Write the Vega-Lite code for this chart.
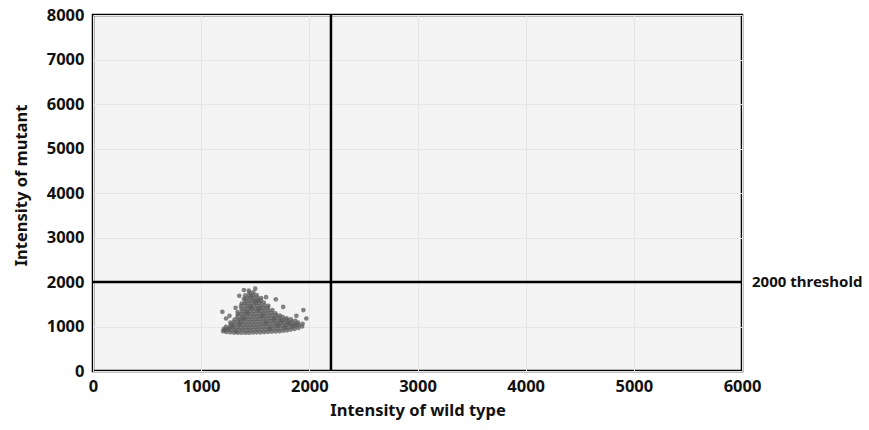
{
  "$schema": "https://vega.github.io/schema/vega-lite/v6.json",
  "autosize": {"type": "none"},
  "padding": {"left": 93, "top": 15, "right": 127, "bottom": 59},
  "width": 649,
  "height": 356,
  "background": "white",
  "config": {
    "view": {"fill": "#f4f4f4", "stroke": "black", "strokeWidth": 2.5},
    "font": "Noto Sans"
  },
  "datasets": {
    "pts": [
      {"wt":1203,"mut":895},{"wt":1210,"mut":950},{"wt":1218,"mut":915},
      {"wt":1233,"mut":878},{"wt":1238,"mut":935},{"wt":1230,"mut":990},
      {"wt":1268,"mut":868},{"wt":1273,"mut":925},{"wt":1266,"mut":985},{"wt":1275,"mut":1045},{"wt":1270,"mut":1090},
      {"wt":1303,"mut":864},{"wt":1309,"mut":920},{"wt":1300,"mut":980},{"wt":1307,"mut":1040},{"wt":1302,"mut":1100},{"wt":1310,"mut":1155},
      {"wt":1338,"mut":860},{"wt":1344,"mut":918},{"wt":1336,"mut":976},{"wt":1342,"mut":1036},{"wt":1339,"mut":1095},{"wt":1346,"mut":1155},{"wt":1335,"mut":1215},{"wt":1341,"mut":1275},{"wt":1337,"mut":1325},
      {"wt":1372,"mut":862},{"wt":1378,"mut":921},{"wt":1370,"mut":978},{"wt":1380,"mut":1038},{"wt":1374,"mut":1097},{"wt":1369,"mut":1158},{"wt":1377,"mut":1219},{"wt":1371,"mut":1277},{"wt":1379,"mut":1338},{"wt":1373,"mut":1399},{"wt":1368,"mut":1457},{"wt":1376,"mut":1515},
      {"wt":1408,"mut":860},{"wt":1413,"mut":917},{"wt":1405,"mut":977},{"wt":1415,"mut":1035},{"wt":1409,"mut":1096},{"wt":1404,"mut":1157},{"wt":1412,"mut":1215},{"wt":1407,"mut":1277},{"wt":1414,"mut":1336},{"wt":1406,"mut":1395},{"wt":1411,"mut":1457},{"wt":1403,"mut":1516},{"wt":1410,"mut":1577},{"wt":1415,"mut":1636},{"wt":1408,"mut":1700},
      {"wt":1443,"mut":862},{"wt":1448,"mut":921},{"wt":1440,"mut":979},{"wt":1450,"mut":1041},{"wt":1444,"mut":1099},{"wt":1439,"mut":1161},{"wt":1447,"mut":1219},{"wt":1442,"mut":1281},{"wt":1449,"mut":1340},{"wt":1441,"mut":1401},{"wt":1446,"mut":1459},{"wt":1438,"mut":1521},{"wt":1445,"mut":1580},{"wt":1450,"mut":1641},{"wt":1443,"mut":1700},{"wt":1448,"mut":1760},{"wt":1440,"mut":1805},
      {"wt":1478,"mut":865},{"wt":1483,"mut":924},{"wt":1475,"mut":986},{"wt":1485,"mut":1044},{"wt":1479,"mut":1106},{"wt":1474,"mut":1164},{"wt":1482,"mut":1226},{"wt":1477,"mut":1284},{"wt":1484,"mut":1346},{"wt":1476,"mut":1404},{"wt":1481,"mut":1466},{"wt":1473,"mut":1524},{"wt":1480,"mut":1586},{"wt":1485,"mut":1644},{"wt":1478,"mut":1706},{"wt":1482,"mut":1770},
      {"wt":1513,"mut":868},{"wt":1518,"mut":929},{"wt":1510,"mut":987},{"wt":1520,"mut":1049},{"wt":1514,"mut":1108},{"wt":1509,"mut":1169},{"wt":1517,"mut":1227},{"wt":1512,"mut":1289},{"wt":1519,"mut":1348},{"wt":1511,"mut":1409},{"wt":1516,"mut":1467},{"wt":1508,"mut":1529},{"wt":1515,"mut":1588},{"wt":1520,"mut":1649},{"wt":1513,"mut":1708},
      {"wt":1548,"mut":870},{"wt":1553,"mut":931},{"wt":1545,"mut":989},{"wt":1555,"mut":1051},{"wt":1549,"mut":1109},{"wt":1544,"mut":1171},{"wt":1552,"mut":1229},{"wt":1547,"mut":1291},{"wt":1554,"mut":1349},{"wt":1546,"mut":1411},{"wt":1551,"mut":1469},{"wt":1543,"mut":1531},{"wt":1550,"mut":1589},{"wt":1555,"mut":1640},
      {"wt":1583,"mut":875},{"wt":1588,"mut":934},{"wt":1580,"mut":996},{"wt":1590,"mut":1054},{"wt":1584,"mut":1116},{"wt":1579,"mut":1174},{"wt":1587,"mut":1236},{"wt":1582,"mut":1294},{"wt":1589,"mut":1356},{"wt":1581,"mut":1414},{"wt":1586,"mut":1476},{"wt":1578,"mut":1540},
      {"wt":1618,"mut":880},{"wt":1623,"mut":941},{"wt":1615,"mut":999},{"wt":1625,"mut":1061},{"wt":1619,"mut":1119},{"wt":1614,"mut":1181},{"wt":1622,"mut":1239},{"wt":1617,"mut":1301},{"wt":1624,"mut":1359},{"wt":1616,"mut":1421},{"wt":1621,"mut":1465},
      {"wt":1653,"mut":885},{"wt":1658,"mut":944},{"wt":1650,"mut":1006},{"wt":1660,"mut":1064},{"wt":1654,"mut":1126},{"wt":1649,"mut":1184},{"wt":1657,"mut":1246},{"wt":1652,"mut":1304},{"wt":1659,"mut":1370},
      {"wt":1688,"mut":890},{"wt":1693,"mut":951},{"wt":1685,"mut":1009},{"wt":1695,"mut":1071},{"wt":1689,"mut":1129},{"wt":1684,"mut":1191},{"wt":1692,"mut":1249},{"wt":1687,"mut":1295},
      {"wt":1723,"mut":895},{"wt":1728,"mut":954},{"wt":1720,"mut":1016},{"wt":1730,"mut":1074},{"wt":1724,"mut":1136},{"wt":1719,"mut":1194},{"wt":1727,"mut":1245},
      {"wt":1758,"mut":905},{"wt":1763,"mut":966},{"wt":1755,"mut":1024},{"wt":1765,"mut":1086},{"wt":1759,"mut":1144},{"wt":1754,"mut":1210},
      {"wt":1793,"mut":915},{"wt":1798,"mut":974},{"wt":1790,"mut":1036},{"wt":1800,"mut":1094},{"wt":1794,"mut":1150},{"wt":1789,"mut":1185},
      {"wt":1828,"mut":930},{"wt":1833,"mut":991},{"wt":1825,"mut":1049},{"wt":1835,"mut":1111},{"wt":1829,"mut":1160},
      {"wt":1863,"mut":948},{"wt":1868,"mut":1006},{"wt":1860,"mut":1064},{"wt":1870,"mut":1125},
      {"wt":1898,"mut":968},{"wt":1903,"mut":1031},{"wt":1895,"mut":1090},
      {"wt":1933,"mut":1000},{"wt":1938,"mut":1060},
      {"wt":1256,"mut":952},{"wt":1289,"mut":1010},{"wt":1322,"mut":890},{"wt":1357,"mut":1060},{"wt":1391,"mut":1180},{"wt":1425,"mut":1310},{"wt":1461,"mut":1430},{"wt":1497,"mut":1560},{"wt":1530,"mut":1380},{"wt":1566,"mut":1250},{"wt":1601,"mut":1090},{"wt":1637,"mut":960},{"wt":1672,"mut":1160},{"wt":1707,"mut":1030},{"wt":1741,"mut":1120},{"wt":1777,"mut":990},{"wt":1812,"mut":1070},{"wt":1848,"mut":1010},{"wt":1884,"mut":1050},{"wt":1395,"mut":1620},{"wt":1462,"mut":1680},{"wt":1530,"mut":1580},
      {"wt":1196,"mut":1330},{"wt":1262,"mut":1240},{"wt":1318,"mut":1420},{"wt":1352,"mut":1690},{"wt":1395,"mut":1820},{"wt":1690,"mut":1610},{"wt":1758,"mut":1440},{"wt":1945,"mut":1370},{"wt":1972,"mut":1180},{"wt":1600,"mut":1660},{"wt":1230,"mut":1180},{"wt":1880,"mut":1240},{"wt":1500,"mut":1850}
    ],
    "thr": [{"wt":6000,"mut":2000,"label":"2000 threshold"}],
    "vline": [{"wt":2200}],
    "hline": [{"mut":2000}]
  },
  "layer": [
    {
      "data": {"name": "pts"},
      "mark": {"type": "circle", "size": 22, "color": "#5c5c5c", "opacity": 0.75},
      "encoding": {
        "x": {
          "field": "wt", "type": "quantitative",
          "scale": {"domain": [0, 6000], "nice": false},
          "axis": {
            "title": "Intensity of wild type",
            "values": [0, 1000, 2000, 3000, 4000, 5000, 6000],
            "format": "d",
            "ticks": false, "domain": false,
            "grid": true, "gridColor": "#e6e6e6", "gridWidth": 1,
            "labelFont": "Noto Sans", "labelFontSize": 16.5, "labelFontWeight": "bold", "labelColor": "#111",
            "labelPadding": 7, "labelFlush": false,
            "titleFont": "Noto Sans", "titleFontSize": 16.5, "titleFontWeight": "bold", "titleColor": "#111",
            "titlePadding": 8
          }
        },
        "y": {
          "field": "mut", "type": "quantitative",
          "scale": {"domain": [0, 8000], "nice": false},
          "axis": {
            "title": "Intensity of mutant",
            "values": [0, 1000, 2000, 3000, 4000, 5000, 6000, 7000, 8000],
            "format": "d",
            "ticks": false, "domain": false,
            "grid": true, "gridColor": "#e6e6e6", "gridWidth": 1,
            "labelFont": "Noto Sans", "labelFontSize": 16.5, "labelFontWeight": "bold", "labelColor": "#111",
            "labelPadding": 9, "labelFlush": false,
            "titleFont": "Noto Sans", "titleFontSize": 16.5, "titleFontWeight": "bold", "titleColor": "#111",
            "titlePadding": 17, "titleY": 170
          }
        }
      }
    },
    {
      "data": {"name": "vline"},
      "mark": {"type": "rule", "color": "black", "strokeWidth": 2.5},
      "encoding": {"x": {"field": "wt", "type": "quantitative"}}
    },
    {
      "data": {"name": "hline"},
      "mark": {"type": "rule", "color": "black", "strokeWidth": 2.5},
      "encoding": {"y": {"field": "mut", "type": "quantitative"}}
    },
    {
      "data": {"name": "thr"},
      "mark": {"type": "text", "align": "left", "baseline": "middle", "dx": 10, "font": "Noto Sans", "fontSize": 15, "fontWeight": "bold", "color": "#111", "clip": false},
      "encoding": {
        "x": {"field": "wt", "type": "quantitative"},
        "y": {"field": "mut", "type": "quantitative"},
        "text": {"field": "label"}
      }
    }
  ]
}
